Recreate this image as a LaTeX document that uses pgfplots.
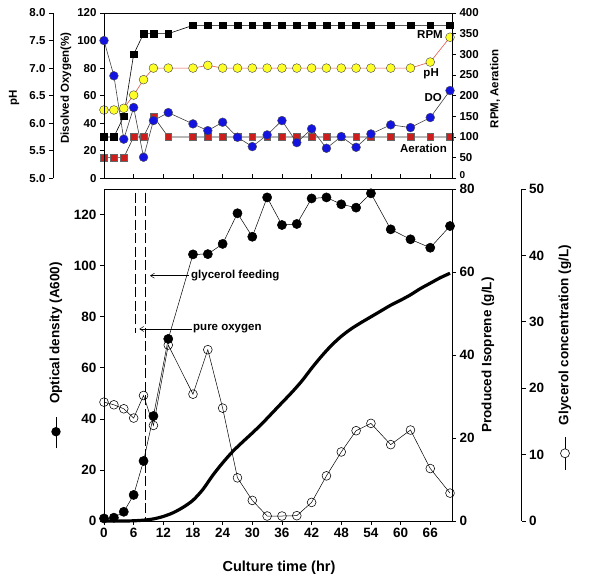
\documentclass[border=0pt]{standalone}
\usepackage{fontspec}
\setmainfont{Liberation Sans}
\usepackage{pgfplots}
\pgfplotsset{compat=1.18}
\usetikzlibrary{arrows.meta}

\definecolor{doblue}{RGB}{20,20,225}
\definecolor{phyellow}{RGB}{255,255,40}
\definecolor{aerred}{RGB}{205,30,30}
\definecolor{phline}{RGB}{225,85,75}

\pgfplotsset{
  base/.style={scale only axis, clip=false,
    /pgf/number format/assume math mode=true,
    tick align=outside, major tick length=4pt,
    axis line style={line width=0.6pt},
    every tick/.style={line width=0.6pt, black},
    tick label style={font=\bfseries\fontsize{11.5}{12}\selectfont}},
  toppanel/.style={base, at={(104pt,407.7pt)}, anchor=south west,
    width=348pt, height=165.3pt, xmin=0, xmax=70.4},
  botpanel/.style={base, at={(104pt,65pt)}, anchor=south west,
    width=348pt, height=332pt, xmin=0, xmax=70.4,
    tick label style={font=\bfseries\fontsize{13.5}{14}\selectfont}},
}

\pgfplotstableread{
T   DO    PH    RPM  AER
0   100.0 6.24  100  50
2   74.4  6.24  100  50
4   28.4  6.27  150  50
6   51.4  6.51  300  100
8   15.3  6.79  350  100
10  41.9  7.00  350  150
13  47.7  7.00  350  100
18  39.5  7.00  370  100
21  34.6  7.05  370  100
24  40.7  7.00  370  100
27  29.8  7.00  370  100
30  23.0  7.00  370  100
33  31.5  7.00  370  100
36  41.9  7.00  370  100
39  25.9  7.00  370  100
42  35.9  7.00  370  100
45  21.8  7.00  370  100
48  30.3  7.00  370  100
51  22.5  7.00  370  100
54  32.2  7.00  370  100
58  38.8  7.00  370  100
62  36.8  7.00  370  100
66  44.1  7.11  370  100
70  63.7  7.56  370  100
}\toptable

\pgfplotstableread{
T   OD     GLY
0   1.0    17.9
2   1.3    17.5
4   3.6    16.9
6   10.2   15.5
8   23.5   18.9
10  41.1   14.4
13  71.3   26.5
18  104.4  19.1
21  104.5  25.8
24  108.5  17.0
27  120.5  6.5
30  111.3  3.1
33  126.7  0.75
36  115.9  0.75
39  116.3  0.8
42  126.3  2.8
45  126.7  6.8
48  124.0  10.4
51  122.7  13.6
54  128.3  14.7
58  114.2  11.5
62  110.3  13.7
66  107.0  7.9
70  115.5  4.2
}\bottable

\pgfplotstableread{
T   ISO
0   0
2   0
4   0
6   0.05
8   0.2
10  0.5
12  1.1
14  2.0
16  3.3
18  5.0
20  7.6
22  11.0
24  14.0
26  16.7
28  19.0
30  21.2
32  23.5
34  26.0
36  28.5
38  31.0
40  33.7
42  36.8
44  39.7
46  42.3
48  44.5
50  46.3
52  47.8
54  49.2
56  50.6
58  52.0
60  53.2
62  54.5
64  56.0
66  57.3
68  58.6
70  59.7
}\isotable

\begin{document}
\begin{tikzpicture}
\path[use as bounding box] (0pt,0pt) rectangle (592pt,586pt);

% ---------------- top panel ----------------
% RPM / Aeration (right axis)
\begin{axis}[toppanel, ymin=0, ymax=400, ytick={50,100,...,400},
  extra y ticks={0},
  extra y tick style={yticklabel style={yshift=3pt, font=\bfseries\fontsize{10}{10}\selectfont}},
  axis x line=none, axis y line*=right]
  \addplot[black!80, line width=0.6pt, mark=square*, mark size=3.4pt,
    mark options={fill=aerred, draw=black!60, line width=0.4pt}]
    table[x=T, y=AER] {\toptable};
  \addplot[black, line width=0.6pt, mark=square*, mark size=3.4pt,
    mark options={fill=black, draw=black}]
    table[x=T, y=RPM] {\toptable};
\end{axis}

% pH (offset left axis)
\begin{axis}[base, at={(53pt,407.7pt)}, anchor=south west,
  width=399pt, height=165.3pt, xmin=-10.317, xmax=70.4,
  ymin=5, ymax=8, ytick={5,5.5,6,6.5,7,7.5,8},
  axis x line=none, axis y line*=left,
  yticklabel style={/pgf/number format/.cd, fixed, fixed zerofill, precision=1}]
  \addplot[phline, line width=0.6pt, mark=*, mark size=4.4pt,
    mark options={fill=phyellow, draw=black!75, line width=0.4pt}]
    table[x=T, y=PH] {\toptable};
\end{axis}

% DO (left axis, frame)
\begin{axis}[toppanel, ymin=0, ymax=120, ytick={0,20,...,120},
  xtick=\empty, ytick pos=left]
  \addplot[black!75, line width=0.6pt, mark=*, mark size=4.4pt,
    mark options={fill=doblue, draw=black!70, line width=0.4pt}]
    table[x=T, y=DO] {\toptable};
\end{axis}

% inner x ticks of top panel
\begin{axis}[toppanel, ymin=0, ymax=1, axis y line=none, axis x line*=bottom,
  xtick={0,6,...,66}, xticklabels={}, tick align=inside]
\end{axis}

% ---------------- bottom panel ----------------
% glycerol (offset right axis)
\begin{axis}[base, at={(104pt,65pt)}, anchor=south west,
  width=417.7pt, height=332pt, xmin=0, xmax=84.5,
  ymin=0, ymax=50, ytick={0,10,...,50},
  axis x line=none, axis y line*=right,
  tick label style={font=\bfseries\fontsize{13.5}{14}\selectfont}]
  \addplot[black, line width=0.5pt, mark=o, mark size=4.4pt,
    mark options={fill=white, draw=black, line width=0.55pt}]
    table[x=T, y=GLY] {\bottable};
\end{axis}

% isoprene (right axis)
\begin{axis}[botpanel, ymin=0, ymax=80, ytick={0,20,...,80},
  axis x line=none, axis y line*=right]
  \addplot[black, line width=3.2pt, smooth, no marks]
    table[x=T, y=ISO] {\isotable};
\end{axis}

% OD (left axis, frame)
\begin{axis}[botpanel, ymin=0, ymax=130, ytick={0,20,...,120},
  xtick={0,6,...,66}, xtick pos=left, ytick pos=left]
  \addplot[black, line width=0.5pt, mark=*, mark size=4.6pt,
    mark options={fill=black, draw=black}]
    table[x=T, y=OD] {\bottable};
\end{axis}

% annotations
\draw[line width=0.6pt, dash pattern=on 10pt off 3.5pt] (135.7pt,393pt) -- (135.7pt,253pt);
\draw[line width=0.6pt, dash pattern=on 10pt off 3.5pt] (145.7pt,393pt) -- (145.7pt,65pt);
\draw[line width=0.5pt, -{Straight Barb[length=4pt,width=5pt]}] (189pt,310.3pt) -- (150pt,310.3pt);
\draw[line width=0.5pt, -{Straight Barb[length=4pt,width=5pt]}] (191.7pt,257pt) -- (139.3pt,257pt);
\node[anchor=west, inner sep=0pt, font=\bfseries\fontsize{11.5}{12}\selectfont] at (191pt,310.3pt) {glycerol feeding};
\node[anchor=west, inner sep=0pt, font=\bfseries\fontsize{11.5}{12}\selectfont] at (193pt,257pt) {pure oxygen};

% top panel series labels
\node[anchor=east, inner sep=0pt, font=\bfseries\fontsize{11.5}{12}\selectfont] at (443pt,551pt) {RPM};
\node[anchor=east, inner sep=0pt, font=\bfseries\fontsize{11.5}{12}\selectfont] at (439pt,512pt) {pH};
\node[anchor=east, inner sep=0pt, font=\bfseries\fontsize{11.5}{12}\selectfont] at (442pt,488.3pt) {DO};
\node[anchor=east, inner sep=0pt, font=\bfseries\fontsize{11.5}{12}\selectfont] at (447pt,437.7pt) {Aeration};

% axis labels
\node[rotate=90, font=\bfseries\fontsize{11.5}{12}\selectfont] at (14pt,488pt) {pH};
\node[rotate=90, font=\bfseries\fontsize{11.5}{12}\selectfont] at (66pt,498pt) {Disolved Oxygen(\%)};
\node[rotate=90, font=\bfseries\fontsize{11.5}{12}\selectfont] at (495pt,497pt) {RPM, Aeration};
\node[font=\bfseries\fontsize{14.5}{15}\selectfont] at (279pt,18pt) {Culture time (hr)};
\node[rotate=90, font=\bfseries\fontsize{13.5}{14}\selectfont] at (56pt,253pt) {Optical density (A600)};
\node[rotate=90, font=\bfseries\fontsize{13.5}{14}\selectfont] at (488pt,231pt) {Produced Isoprene (g/L)};
\node[rotate=90, font=\bfseries\fontsize{13.5}{14}\selectfont] at (565pt,251pt) {Glycerol concentration (g/L)};

% label key symbols
\draw[line width=0.6pt] (56pt,137.7pt) -- (56pt,169.3pt);
\fill[black] (56pt,154.3pt) circle (4.7pt);
\draw[line width=0.6pt] (565pt,116pt) -- (565pt,149pt);
\draw[line width=0.6pt, fill=white] (565pt,132.7pt) circle (4.5pt);
\end{tikzpicture}
\end{document}
